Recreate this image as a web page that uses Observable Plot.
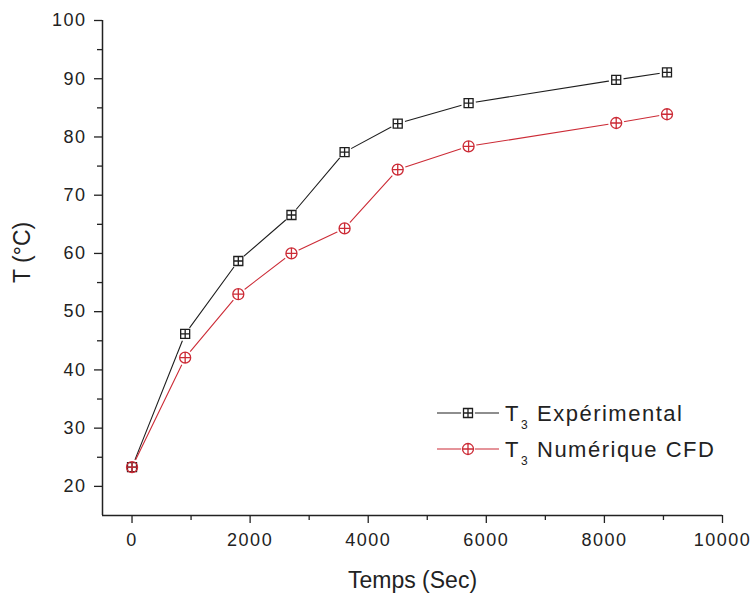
<!DOCTYPE html>
<html>
<head>
<meta charset="utf-8">
<script src="https://cdn.jsdelivr.net/npm/d3@7"></script>
<script src="https://cdn.jsdelivr.net/npm/@observablehq/plot@0.6"></script>
<style>
  body { margin: 0; background: #fff; }
  #chart { width: 751px; height: 599px; }
  svg text { font-family: "Liberation Sans", Arial, sans-serif; fill: #222; }
  g[aria-label="x-axis tick label"] text, g[aria-label="y-axis tick label"] text { letter-spacing: 1.5px; }
</style>
</head>
<body>
<div id="chart"></div>
<script>
// ---- data ----
const time   = [0, 900, 1800, 2700, 3600, 4500, 5700, 8200, 9060];
const tExp   = [23.3, 46.2, 58.7, 66.6, 77.4, 82.3, 85.8, 89.8, 91.1];
const tCfd   = [23.3, 42.1, 53.0, 60.0, 64.3, 74.4, 78.4, 82.4, 83.9];
const seriesNames = ["Expérimental", "Numérique CFD"];
const seriesColors = ["#1e1e1e", "#cc2b36"];
const xTicks = [0, 2000, 4000, 6000, 8000, 10000];
const xMinor = [1000, 3000, 5000, 7000, 9000];
const yTicks = [20, 30, 40, 50, 60, 70, 80, 90, 100];
const yMinor = [25, 35, 45, 55, 65, 75, 85, 95];
const xLabel = "Temps (Sec)";
const yLabel = "T (°C)";

const expData = time.map((t, i) => ({t, v: tExp[i]}));
const cfdData = time.map((t, i) => ({t, v: tCfd[i]}));

// ---- custom symbols (r given -> size = PI r^2) ----
const squarePlus = {
  draw(ctx, size) {
    const r = Math.sqrt(size / Math.PI);
    ctx.moveTo(-r, -r); ctx.lineTo(r, -r); ctx.lineTo(r, r); ctx.lineTo(-r, r); ctx.closePath();
    ctx.moveTo(0, -r); ctx.lineTo(0, r);
    ctx.moveTo(-r, 0); ctx.lineTo(r, 0);
  }
};
const circlePlus = {
  draw(ctx, size) {
    const r = Math.sqrt(size / Math.PI);
    ctx.moveTo(r, 0); ctx.arc(0, 0, r, 0, 2 * Math.PI);
    ctx.moveTo(0, -r); ctx.lineTo(0, r);
    ctx.moveTo(-r, 0); ctx.lineTo(r, 0);
  }
};

const W = 751, H = 599;
const chart = Plot.plot({
  width: W,
  height: H,
  marginLeft: 102,
  marginRight: 29,
  marginTop: 20,
  marginBottom: 84,
  x: {domain: [-500, 10000]},
  y: {domain: [15, 100]},
  marks: [
    Plot.ruleX([-500], {stroke: "#222", strokeWidth: 1.5}),
    Plot.ruleY([15], {stroke: "#222", strokeWidth: 1.5}),
    Plot.axisY(yTicks, {tickSize: 8, tickPadding: 8, fontSize: 18, label: null, stroke: "#222", strokeWidth: 1.3}),
    Plot.axisY(yMinor, {tickSize: 5, text: null, label: null, stroke: "#222", strokeWidth: 1.3}),
    Plot.axisX(xTicks, {tickSize: 8, tickPadding: 10, fontSize: 18, label: null, tickFormat: d => String(d), stroke: "#222", strokeWidth: 1.3}),
    Plot.axisX(xMinor, {tickSize: 5, text: null, label: null, stroke: "#222", strokeWidth: 1.3}),
    Plot.text([xLabel], {frameAnchor: "bottom", dy: 65, fontSize: 23, lineAnchor: "middle"}),
    Plot.text([yLabel], {frameAnchor: "left", dx: -80, dy: 15, rotate: -90, fontSize: 23, lineAnchor: "middle"}),
    Plot.line(expData, {x: "t", y: "v", stroke: seriesColors[0], strokeWidth: 1.1}),
    Plot.line(cfdData, {x: "t", y: "v", stroke: seriesColors[1], strokeWidth: 1.1}),
    Plot.dot(expData, {x: "t", y: "v", r: 7.5, fill: "white", stroke: "none"}),
    Plot.dot(cfdData, {x: "t", y: "v", r: 8, fill: "white", stroke: "none"}),
    Plot.dot(expData, {x: "t", y: "v", r: 4.5, symbol: squarePlus, fill: "none", stroke: seriesColors[0], strokeWidth: 1.3}),
    Plot.dot(cfdData, {x: "t", y: "v", r: 5.5, symbol: circlePlus, fill: "none", stroke: seriesColors[1], strokeWidth: 1.3})
  ]
});
document.getElementById("chart").appendChild(chart);

// ---- legend ----
const svg = d3.select(chart);
const leg = svg.append("g").attr("class", "legend").attr("text-anchor", "start");
const symbols = [squarePlus, circlePlus];
const symR = [4.5, 5.5];
const rows = [413, 449];
seriesNames.forEach((name, i) => {
  const y = rows[i];
  const g = leg.append("g");
  g.append("line").attr("x1", 437).attr("x2", 499).attr("y1", y).attr("y2", y)
    .attr("stroke", seriesColors[i]).attr("stroke-width", 1.1);
  g.append("circle").attr("cx", 468).attr("cy", y).attr("r", 7).attr("fill", "white");
  g.append("path").attr("transform", `translate(468,${y})`)
    .attr("d", d3.symbol(symbols[i], Math.PI * symR[i] * symR[i])())
    .attr("fill", "none").attr("stroke", seriesColors[i]).attr("stroke-width", 1.3);
  g.append("text").attr("x", 505).attr("y", y + 8).attr("font-size", 22).attr("text-anchor", "start").text("T");
  g.append("text").attr("x", 521).attr("y", y + 16).attr("font-size", 12).attr("text-anchor", "start").text("3");
  g.append("text").attr("x", 537).attr("y", y + 8).attr("font-size", 22).attr("text-anchor", "start")
    .style("letter-spacing", "1.5px").text(name);
});
</script>
</body>
</html>
